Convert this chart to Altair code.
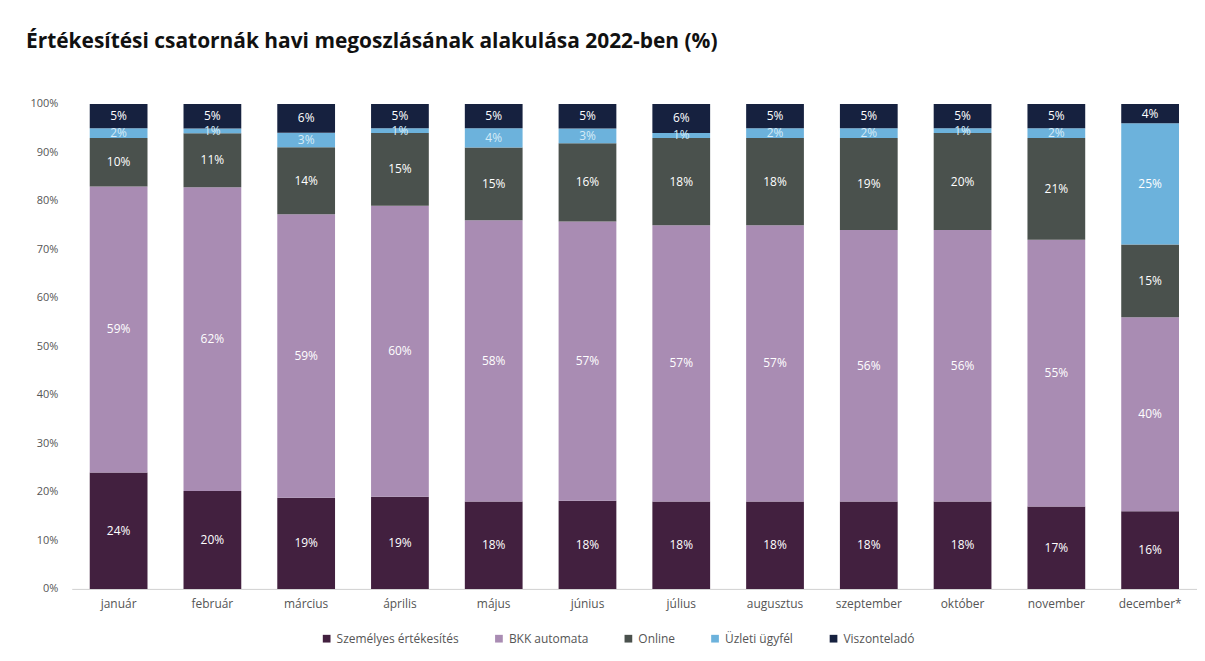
import altair as alt
import pandas as pd

months = ["január", "február", "március", "április", "május", "június",
          "július", "augusztus", "szeptember", "október", "november", "december*"]
series = ["Személyes értékesítés", "BKK automata", "Online", "Üzleti ügyfél", "Viszonteladó"]
szemelyes = [24, 20, 19, 19, 18, 18, 18, 18, 18, 18, 17, 16]
bkk = [59, 62, 59, 60, 58, 57, 57, 57, 56, 56, 55, 40]
online = [10, 11, 14, 15, 15, 16, 18, 18, 19, 20, 21, 15]
uzleti = [2, 1, 3, 1, 4, 3, 1, 2, 2, 1, 2, 25]
viszont = [5, 5, 6, 5, 5, 5, 6, 5, 5, 5, 5, 4]
colors = ["#42203f", "#a98cb3", "#4a514d", "#6cb2dc", "#16213f"]

rows = []
for si, (name, vals) in enumerate(zip(series, [szemelyes, bkk, online, uzleti, viszont])):
    for m, v in zip(months, vals):
        small = name == "Üzleti ügyfél" and v < 10
        rows.append({"month": m, "series": name, "value": v, "order": si,
                     "label": f"{v}%", "tc": "#d6ecf8" if small else "#ffffff"})
df = pd.DataFrame(rows)

base = alt.Chart(df)

bars = base.mark_bar(size=58).encode(
    x=alt.X("month:N", sort=months, title=None,
            axis=alt.Axis(labelAngle=0, labelColor="#555555", labelFontSize=12,
                          labelFont="Open Sans", ticks=False, domainColor="#d0d0d0",
                          labelPadding=10)),
    y=alt.Y("value:Q", stack="normalize", title=None,
            scale=alt.Scale(domain=[0, 1]),
            axis=alt.Axis(format=".0%", values=[i / 10 for i in range(11)],
                          grid=False, ticks=False, domain=False, labelColor="#555555",
                          labelFontSize=11, labelFont="Open Sans", labelPadding=14)),
    color=alt.Color("series:N", sort=series,
                    scale=alt.Scale(domain=series, range=colors),
                    legend=alt.Legend(orient="none", legendX=250, legendY=531,
                                      direction="horizontal", title=None,
                                      symbolType="square", symbolSize=60,
                                      labelFontSize=12, labelColor="#555555",
                                      labelFont="Open Sans", columnPadding=34,
                                      labelLimit=0)),
    order=alt.Order("order:Q"),
)

labels = base.transform_joinaggregate(
    total="sum(value)", groupby=["month"]
).transform_window(
    cum="sum(value)", groupby=["month"], sort=[alt.SortField("order")], frame=[None, 0]
).transform_calculate(
    mid="(datum.cum - datum.value/2)/datum.total"
).mark_text(fontSize=12, font="Open Sans").encode(
    x=alt.X("month:N", sort=months),
    y=alt.Y("mid:Q", scale=alt.Scale(domain=[0, 1])),
    text="label:N",
    color=alt.Color("tc:N", scale=None, legend=None),
)

chart = alt.layer(bars, labels).properties(
    width=1130, height=487,
    padding={"left": 18, "top": 22, "right": 0, "bottom": 0},
    title=alt.TitleParams("Értékesítési csatornák havi megoszlásának alakulása 2022-ben (%)",
                          anchor="start", frame="bounds", font="Open Sans",
                          fontSize=21, fontWeight="bold", color="#111111",
                          offset=46, dx=-4),
).configure_view(stroke=None).configure_scale(bandPaddingInner=0.38, bandPaddingOuter=0.19)

chart.save("out.html", embed_options={"renderer": "svg", "actions": False})
